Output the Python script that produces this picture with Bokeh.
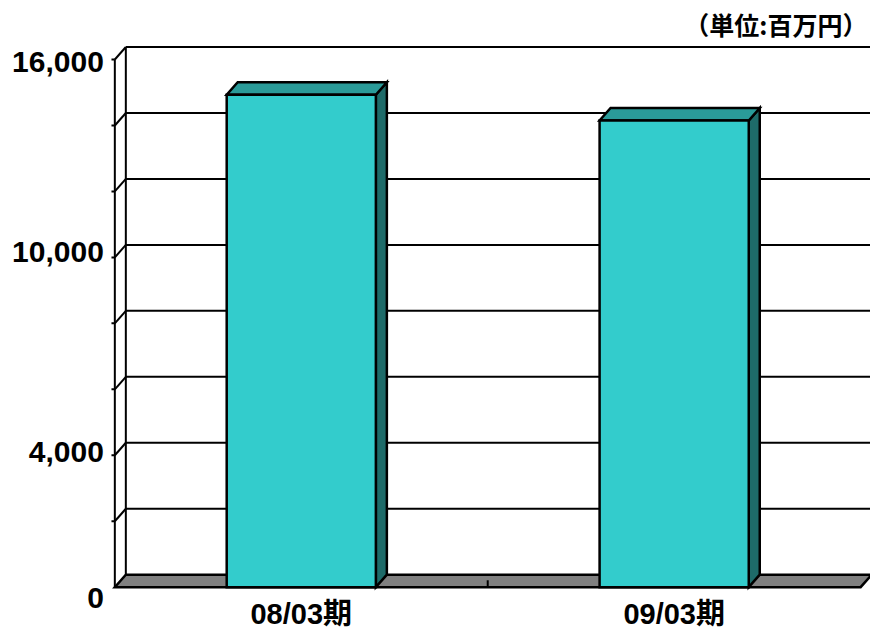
from bokeh.plotting import figure
from bokeh.models import Range1d
from bokeh.core.properties import value
from bokeh.embed import file_html
from bokeh.resources import INLINE

# --- data -------------------------------------------------------------
categories = ["08/03期", "09/03期"]
amounts = [14930, 14150]          # 百万円
tick_values = [0, 4000, 10000, 16000]
tick_labels = ["0", "4,000", "10,000", "16,000"]
grid_step = 2000
y_max = 16000
unit_label = "（単位:百万円）"

# --- style ------------------------------------------------------------
FRONT = "#33CCCC"
TOP = "#2A9B99"
SIDE = "#1E6B69"
FLOOR = "#808080"
INK = "black"
LATIN_FONT = value("Liberation Sans, Noto Sans CJK JP")
CJK_FONT = value("Noto Sans CJK JP")
label_nudge = [11, -3, -5, 2]   # vertical pixel nudges for the value labels

DX = 0.0295      # depth offset along x (data units)
DY = 379         # depth offset along y (data units)
BAR_W = 0.4

xr = Range1d(0.1934, 2.5265)
yr = Range1d(-1313, 17789)

p = figure(width=870, height=630, x_range=xr, y_range=yr,
           x_axis_type=None, y_axis_type=None,
           toolbar_location=None, output_backend="svg",
           min_border=0, outline_line_color=None,
           background_fill_color="white", border_fill_color="white")

xs = [i + 1 for i in range(len(categories))]
x0, x1 = 0.5, len(categories) + 0.5
far_x = xr.end + 0.1
levels = list(range(grid_step, y_max + 1, grid_step))

# back wall: gridlines and left edge
p.segment(x0=[x0 + DX] * len(levels), y0=[v + DY for v in levels],
          x1=[far_x] * len(levels), y1=[v + DY for v in levels],
          line_color=INK, line_width=2)
p.segment(x0=[x0 + DX], y0=[DY], x1=[x0 + DX], y1=[y_max + DY],
          line_color=INK, line_width=2)

# side wall: front edge, depth lines and outer ticks
p.segment(x0=[x0], y0=[0], x1=[x0], y1=[y_max], line_color=INK, line_width=2)
p.segment(x0=[x0] * len(levels), y0=levels,
          x1=[x0 + DX] * len(levels), y1=[v + DY for v in levels],
          line_color=INK, line_width=2)
p.segment(x0=[x0 - 0.009] * len(levels), y0=levels,
          x1=[x0] * len(levels), y1=levels, line_color=INK, line_width=2)

# floor
p.patch(x=[x0, x1, x1 + DX, x0 + DX], y=[0, 0, DY, DY],
        fill_color=FLOOR, line_color=INK, line_width=2.5, line_join="miter")
seps = [i + 0.5 for i in range(1, len(categories))]
p.segment(x0=seps, y0=[0] * len(seps), x1=seps, y1=[210] * len(seps),
          line_color=INK, line_width=2)

# bars: right side, top and front face
lefts = [x - BAR_W / 2 for x in xs]
rights = [x + BAR_W / 2 for x in xs]
p.patches(xs=[[r, r + DX, r + DX, r] for r in rights],
          ys=[[0, DY, v + DY, v] for v in amounts],
          fill_color=SIDE, line_color=INK, line_width=2.5, line_join="miter")
p.patches(xs=[[l, r, r + DX, l + DX] for l, r in zip(lefts, rights)],
          ys=[[v, v, v + DY, v + DY] for v in amounts],
          fill_color=TOP, line_color=INK, line_width=2.5, line_join="miter")
p.quad(left=lefts, right=rights, bottom=[0] * len(xs), top=amounts,
       fill_color=FRONT, line_color=INK, line_width=2.5, line_join="miter")

# value axis labels
p.text(x=[x0] * len(tick_values), y=tick_values, text=tick_labels,
       x_offset=-11, y_offset=label_nudge,
       text_align="right", text_baseline="middle",
       text_font=LATIN_FONT, text_font_size="30px", text_font_style="bold",
       text_color=INK)

# category labels
p.text(x=xs, y=[0] * len(xs), text=categories, y_offset=27,
       text_align="center", text_baseline="middle",
       text_font=LATIN_FONT, text_font_size="29px", text_font_style="bold",
       text_color=INK)

# unit note
p.text(x=[xr.end], y=[yr.end], text=[unit_label], x_offset=-3, y_offset=23,
       text_align="right", text_baseline="middle",
       text_font=CJK_FONT, text_font_size="25px", text_font_style="bold",
       text_color=INK)

open("out.html", "w").write(file_html(p, INLINE))
